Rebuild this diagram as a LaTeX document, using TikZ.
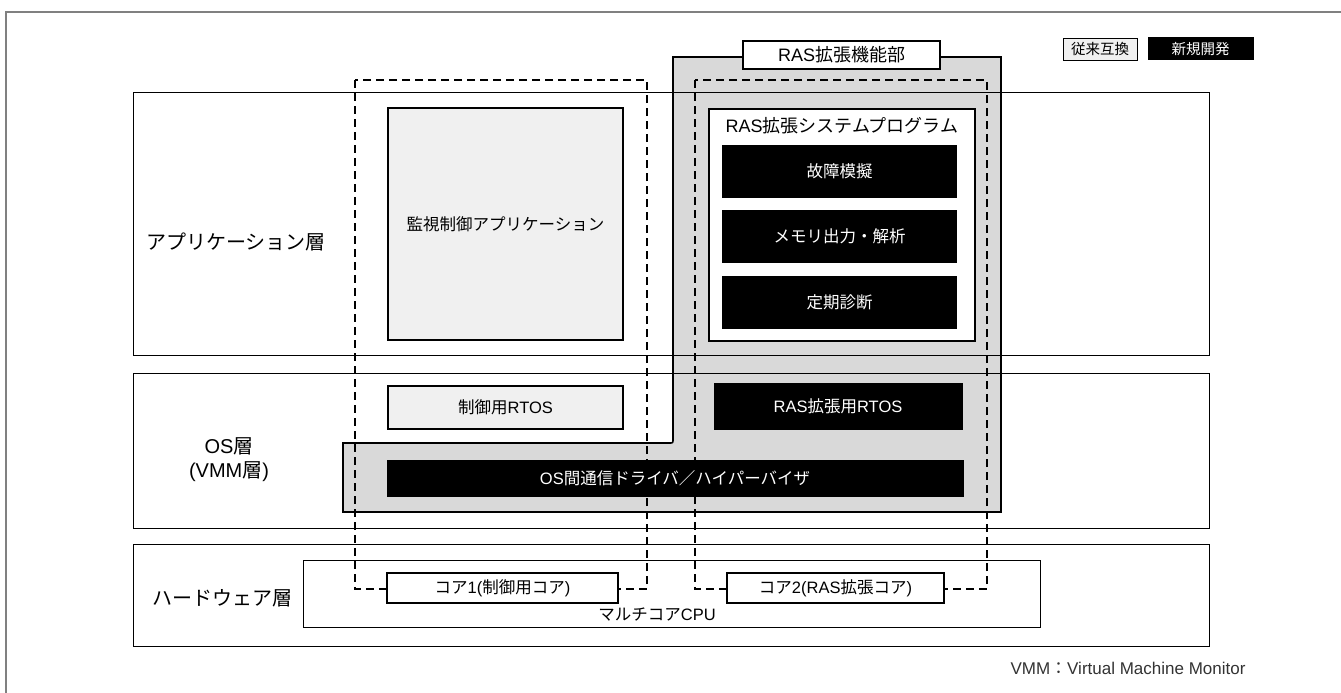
\documentclass[tikz,border=0pt]{standalone}
\usepackage{fontspec}
\setmainfont{Noto Sans CJK JP}
\newfontfamily\lat{Liberation Sans}
\begin{document}
\begin{tikzpicture}[x=1pt,y=-1pt,
  layer/.style={draw=black,line width=1pt},
  dashbox/.style={draw=black,line width=1.7pt,dash pattern=on 8pt off 5pt},
  oldbox/.style={draw=black,line width=1.2pt,fill=gray!12},
  newbox/.style={draw=black,fill=black,text=white,line width=1pt},
  whitebox/.style={draw=black,fill=white,line width=1.4pt},
  lbl/.style={font=\fontsize{20}{24}\selectfont,align=center},
  txt/.style={font=\fontsize{16.5}{18}\selectfont},
  big/.style={font=\fontsize{18}{20}\selectfont},
]
\useasboundingbox (0,0) rectangle (1341,693);
% outer frame
\draw[gray,line width=1.5pt] (1341,12) -- (6,12) -- (6,693);
% gray RAS area
\draw[line width=1.6pt,fill=gray!30]
  (343,512) -- (343,443) -- (669,443) .. controls (673,443) .. (673,439) -- (673,57) -- (1001,57) -- (1001,512) -- cycle;
\node[whitebox,minimum width=197pt,minimum height=28pt,inner sep=0pt,big] (rasunit) at (841.5,55) {{\lat RAS}拡張機能部};
% layers
\draw[layer] (133,92) rectangle (1209,355);
\draw[layer] (133,373) rectangle (1209,528);
\draw[layer] (133,544) rectangle (1209,646);
\node[lbl] (applabel) at (236,242) {アプリケーション層};
\node[lbl] (oslabel) at (229,460) {{\lat OS}層\\{\lat (VMM}層{\lat )}};
\node[lbl] (hwlabel) at (222,598) {ハードウェア層};
% CPU
\draw[layer] (303,560) rectangle (1040,627);
\node[txt] (cpu) at (657,615) {マルチコア{\lat CPU}};
% dashed boxes
\draw[dashbox] (355,80) rectangle (647,589);
\draw[dashbox] (695,80) rectangle (987,589);
% applications
\node[oldbox,minimum width=235pt,minimum height=232pt,inner sep=0pt,txt] (mon) at (505.5,224) {監視制御アプリケーション};
\node[whitebox,minimum width=266pt,minimum height=232pt,inner sep=0pt] (raspg) at (842,225) {};
\node[big,anchor=north] (raspgl) at (raspg.north) [yshift=-6pt] {{\lat RAS}拡張システムプログラム};
\node[newbox,minimum width=234pt,minimum height=52pt,inner sep=0pt,txt] (f1) at (839.5,171) {故障模擬};
\node[newbox,minimum width=234pt,minimum height=52pt,inner sep=0pt,txt] (f2) at (839.5,236) {メモリ出力・解析};
\node[newbox,minimum width=234pt,minimum height=52pt,inner sep=0pt,txt] (f3) at (839.5,302) {定期診断};
% OS
\node[oldbox,minimum width=235pt,minimum height=43pt,inner sep=0pt,txt] (crtos) at (505.5,407.5) {制御用{\lat RTOS}};
\node[newbox,minimum width=248pt,minimum height=46pt,inner sep=0pt,txt] (rrtos) at (838,406) {{\lat RAS}拡張用{\lat RTOS}};
\node[newbox,minimum width=576pt,minimum height=36pt,inner sep=0pt,txt] (vmm) at (675,478) {{\lat OS}間通信ドライバ／ハイパーバイザ};
% cores
\node[whitebox,minimum width=231pt,minimum height=30pt,inner sep=0pt,txt] (core1) at (502.5,588) {コア{\lat 1(}制御用コア{\lat )}};
\node[whitebox,minimum width=217pt,minimum height=30pt,inner sep=0pt,txt] (core2) at (835.5,588) {コア{\lat 2(RAS}拡張コア{\lat )}};
% legend
\node[oldbox,line width=0.8pt,minimum width=74pt,minimum height=22pt,inner sep=0pt,font=\fontsize{14.5}{16}\selectfont] (leg1) at (1100,49) {従来互換};
\node[newbox,minimum width=105pt,minimum height=22pt,inner sep=0pt,font=\fontsize{14.5}{16}\selectfont] (leg2) at (1200.5,49) {新規開発};
% note
\node[anchor=east,text=black!80,font=\fontsize{17}{19}\selectfont] (note) at (1249,668) {{\lat VMM}：{\lat Virtual Machine Monitor}};
\end{tikzpicture}
\end{document}
